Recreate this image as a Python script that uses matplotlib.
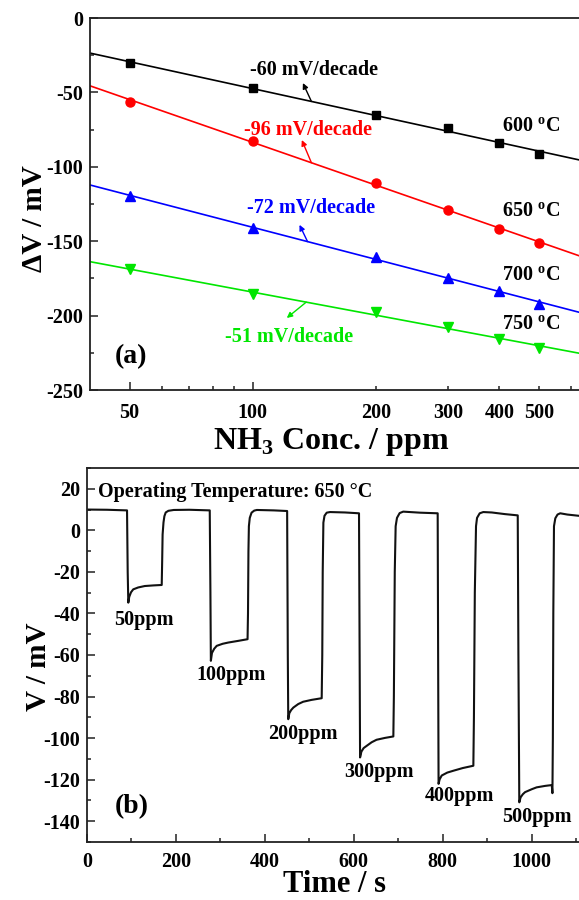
import numpy as np
import matplotlib
matplotlib.use("Agg")
import matplotlib.pyplot as plt
from matplotlib.ticker import FixedLocator, FixedFormatter

plt.rcParams['font.family'] = ['Liberation Serif', 'DejaVu Serif']
plt.rcParams['font.weight'] = 'bold'
plt.rcParams['mathtext.fontset'] = 'custom'
plt.rcParams['mathtext.rm'] = 'Liberation Serif:bold'
plt.rcParams['mathtext.bf'] = 'Liberation Serif:bold'
plt.rcParams['axes.unicode_minus'] = False

# ---------------- data: panel (a) ----------------
conc_ppm = [50, 100, 200, 300, 400, 500]
dv_600 = [-30.4, -47.0, -65.2, -73.7, -83.8, -91.6]
dv_650 = [-56.2, -82.4, -111.0, -129.0, -142.0, -151.0]
dv_700 = [-119.6, -141.3, -160.4, -174.5, -183.3, -192.4]
dv_750 = [-168.9, -185.7, -197.4, -207.4, -216.0, -221.6]
temps = ["600", "650", "700", "750"]
slope_labels = ["-60 mV/decade", "-96 mV/decade", "-72 mV/decade", "-51 mV/decade"]

# ---------------- data: panel (b) ----------------
time_s = [0, 45, 90, 91.5, 92.9, 95, 99, 104, 115, 130, 150, 168, 169, 170, 172, 174, 177, 183, 195, 230,
          276, 277.5, 278.5, 281, 286, 291.6, 305, 317.8, 340, 361, 362, 363, 364, 366, 370, 376, 382, 420,
          450, 451.5, 452.5, 455, 459, 464, 475, 486, 505, 527.7, 529, 530, 531.5, 534, 539, 546.5, 580,
          611.6, 613, 614, 617, 622, 629, 640, 651, 670, 688.8, 690, 692, 694, 697, 703, 711, 748.8,
          788.5, 789.5, 790.5, 793, 797.6, 810, 823.8, 845, 868.7, 870, 872, 874.7, 877, 883, 891, 910, 940,
          968.5, 970, 972, 975, 980, 985, 1000, 1011, 1030, 1045, 1046.5, 1047.5, 1048.5, 1050, 1053, 1058,
          1064, 1080, 1110]
volt_mV = [10.0, 9.9, 9.6, -20, -34.8, -32, -29.8, -28.4, -27.5, -26.8, -26.5, -26.3, -15, -2, 3.8, 6.8, 8.6, 9.4, 9.8, 9.9,
           9.6, -30, -62.8, -59, -57, -55.6, -54.6, -54.0, -53.2, -52.4, -40, -10, 2, 6, 8.5, 9.5, 9.8, 9.6,
           9.3, -60, -90.9, -88, -86.5, -85.3, -83.6, -82.5, -81.6, -80.8, -60, -20, 3.7, 7, 8.5, 8.8, 8.6,
           8.2, -60, -109.3, -106.5, -104.8, -103.7, -102, -100.8, -99.9, -99.2, -80, -20, 2, 6, 8.3, 9.0, 8.5,
           8.2, -60, -122, -119.8, -118, -116.6, -115.7, -114.4, -113.3, -90, -30, 2, 6, 8.2, 8.8, 8.6, 7.8,
           7.2, -60, -130.9, -128.5, -127, -126, -124.6, -123.7, -123, -122.6, -126.5, -100, -40, 2, 5.8, 7.6,
           8.2, 7.6, 6.9]
conc_labels = ["50ppm", "100ppm", "200ppm", "300ppm", "400ppm", "500ppm"]

# ---------------- figure ----------------
fig = plt.figure(figsize=(5.79, 9.00), dpi=100)
axA = fig.add_axes([90/579, 1-390/900, 492/579, 372/900])
axB = fig.add_axes([87/579, 1-842/900, 495/579, 374/900])

spine_c = '#222222'
for ax in (axA, axB):
    for s in ax.spines.values():
        s.set_linewidth(1.3)
        s.set_color(spine_c)
    ax.tick_params(which='both', direction='in', width=1.1, color=spine_c, labelsize=14.5)
    ax.tick_params(which='major', length=6)
    ax.tick_params(which='minor', length=3.2)

# ---------- panel (a) ----------
colors = ['black', '#ff0000', '#0000ff', '#00e600']
markers = ['s', 'o', '^', 'v']
msizes = [5.5, 6.5, 6.5, 6.5]
series = [dv_600, dv_650, dv_700, dv_750]
xl = (40, 637)
axA.set_xscale('log')
xfit = np.logspace(np.log10(xl[0]), np.log10(xl[1]), 50)
logc = np.log10(conc_ppm)
fits = []
for vals, c, m, ms in zip(series, colors, markers, msizes):
    p = np.polyfit(logc, vals, 1)
    fits.append(p)
    axA.plot(xfit, np.polyval(p, np.log10(xfit)), color=c, lw=1.2, zorder=2)
    axA.plot(conc_ppm, vals, linestyle='none', marker=m, color=c, ms=ms, zorder=3)

axA.set_xlim(*xl)
axA.set_ylim(-250, 0)
axA.xaxis.set_major_locator(FixedLocator([50, 100]))
axA.xaxis.set_major_formatter(FixedFormatter(['50', '100']))
minor_x = [60, 70, 80, 90, 200, 300, 400, 500, 600]
axA.xaxis.set_minor_locator(FixedLocator(minor_x))
axA.xaxis.set_minor_formatter(FixedFormatter(['', '', '', '', '200', '300', '400', '500', '']))
axA.tick_params(axis='x', which='both', pad=9, labelsize=14.5)
axA.set_yticks(np.arange(-250, 1, 50))
axA.set_yticks(np.arange(-250, 1, 25), minor=True)
axA.tick_params(axis='y', which='both', pad=5)
for lab in axA.get_xticklabels(minor=True) + axA.get_xticklabels() + axA.get_yticklabels():
    lab.set_fontweight('bold')

# slope annotations: (text x, text y, arrow base x, arrow tip x, arrow tip y)
ann_pos = [(141, -35, 139, 132.5, -43.7),
           (136, -75.3, 139, 131.7, -82.0),
           (139, -127.7, 136, 130, -139.0),
           (122.4, -214.4, 135, 121, -201.6)]
for (tx, ty, bx, hx, hy), p, c, lab in zip(ann_pos, fits, colors, slope_labels):
    axA.text(tx, ty, lab, color=c, fontsize=14.5, fontweight='bold', ha='center', va='center')
    by = np.polyval(p, np.log10(bx))
    axA.annotate('', xy=(hx, hy), xytext=(bx, by),
                 arrowprops=dict(arrowstyle='-|>', color=c, lw=1.0, mutation_scale=8,
                                 shrinkA=0, shrinkB=0))
temp_y = [-73.3, -130.4, -173.4, -206.3]
for t, ty in zip(temps, temp_y):
    axA.text(406, ty, t + r' $^{\rm o}$C', fontsize=14.5, fontweight='bold', ha='left', va='center')
axA.text(0.051, 0.089, '(a)', transform=axA.transAxes, fontsize=20, fontweight='bold',
         ha='left', va='center')
axA.set_ylabel(r'ΔV / mV', fontsize=21, fontweight='bold')
axA.yaxis.set_label_coords(-0.085, 0.46)
axA.set_xlabel(r'NH$_3$ Conc. / ppm', fontsize=23, fontweight='bold')
axA.xaxis.set_label_coords(0.49, -0.098)

# ---------- panel (b) ----------
axB.plot(time_s, volt_mV, color='#111111', lw=1.5)
axB.set_xlim(0, 1113)
axB.set_ylim(-150, 30)
axB.set_xticks(np.arange(0, 1001, 200))
axB.set_xticks(np.arange(100, 1101, 200), minor=True)
axB.set_yticks(np.arange(-140, 21, 20))
axB.set_yticks(np.arange(-150, 31, 10), minor=True)
axB.tick_params(axis='x', which='both', pad=7)
axB.tick_params(axis='y', which='both', pad=5)
for lab in axB.get_xticklabels() + axB.get_yticklabels():
    lab.set_fontweight('bold')

axB.text(24.7, 18.5, 'Operating Temperature: 650 °C', fontsize=14.5, fontweight='bold',
         ha='left', va='center')
lab_pos = [(128, -43), (325, -69.4), (486, -98.2), (655.5, -116.4), (836.5, -128), (1012, -138)]
for (x, y), s in zip(lab_pos, conc_labels):
    axB.text(x, y, s, fontsize=14.5, fontweight='bold', ha='center', va='center')
axB.text(0.057, 0.094, '(b)', transform=axB.transAxes, fontsize=20, fontweight='bold',
         ha='left', va='center')
axB.set_ylabel('V / mV', fontsize=21, fontweight='bold')
axB.yaxis.set_label_coords(-0.071, 0.47)
axB.set_xlabel('Time / s', fontsize=22, fontweight='bold')
axB.xaxis.set_label_coords(0.5, -0.075)

fig.savefig('out.png', dpi=100)
